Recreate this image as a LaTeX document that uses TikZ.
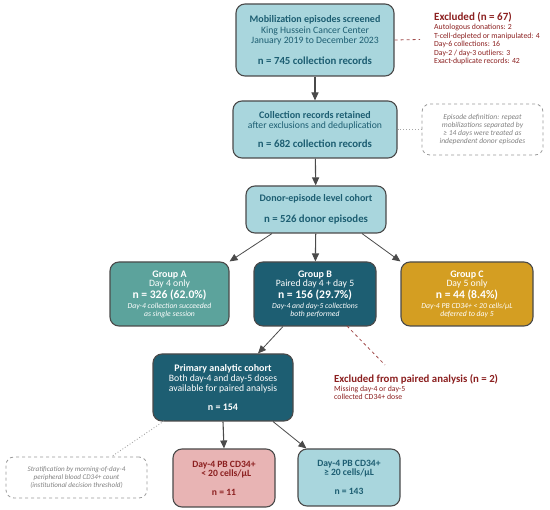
\documentclass[tikz,border=0pt]{standalone}
\usepackage{fontspec}
\setmainfont{Carlito}
\usetikzlibrary{arrows.meta,calc}
\definecolor{lightteal}{HTML}{A9D6DD}
\definecolor{tealA}{HTML}{5CA39C}
\definecolor{darkteal}{HTML}{1D5E72}
\definecolor{goldC}{HTML}{D49E22}
\definecolor{pinkbox}{HTML}{E8B4B4}
\definecolor{exred}{HTML}{8B1F1F}
\definecolor{edgegray}{HTML}{4A4A4A}
\definecolor{notegray}{HTML}{808080}
\tikzset{
  box/.style={draw=edgegray, line width=1.1pt, rounded corners=9pt, align=center, inner sep=0pt},
  lightbox/.style={box, fill=lightteal, text=darkteal},
  notebox/.style={draw=notegray!80, dashed, line width=0.8pt, rounded corners=8pt, align=center, inner sep=0pt, text=notegray},
  arr/.style={draw=edgegray, line width=1.1pt, -{Triangle[length=8pt,width=7pt]}},
  arrthin/.style={draw=edgegray, line width=0.8pt, -{Triangle[length=8pt,width=7pt]}},
  reddash/.style={draw=exred!80, dashed, line width=0.8pt},
  dotline/.style={draw=notegray!70, dotted, line width=0.9pt},
}
\newcommand{\ttl}[1]{{\fontsize{10}{10}\selectfont\bfseries #1}}
\newcommand{\reg}[1]{{\fontsize{9.7}{10}\selectfont #1}}
\newcommand{\bign}[1]{{\fontsize{10.8}{11}\selectfont\bfseries #1}}
\newcommand{\grpn}[1]{{\fontsize{11.6}{12}\selectfont\bfseries #1}}
\newcommand{\sml}[1]{{\fontsize{7.7}{8}\selectfont\itshape #1}}
\newcommand{\thr}[1]{{\fontsize{9.6}{10}\selectfont\bfseries #1}}
\begin{document}
\begin{tikzpicture}[x=1pt,y=-1pt]
\useasboundingbox (0,0) rectangle (550,510);

% main boxes
\node[lightbox, minimum width=158pt, minimum height=72pt, font=\fontsize{9.7}{10.5}\selectfont] (b1) at (315,40)
  {\ttl{Mobilization episodes screened}\\\reg{King Hussein Cancer Center}\\\reg{January 2019 to December 2023}\\[10pt]\bign{n = 745 collection records}};
\node[lightbox, minimum width=164pt, minimum height=57pt, font=\fontsize{9.7}{9.5}\selectfont] (b2) at (315,129.5)
  {\ttl{Collection records retained}\\\reg{after exclusions and deduplication}\\[9.5pt]\bign{n = 682 collection records}};
\node[lightbox, minimum width=140pt, minimum height=47pt, font=\fontsize{9.7}{10.5}\selectfont] (b3) at (316,209.5)
  {\ttl{Donor-episode level cohort}\\[10.5pt]\bign{n = 526 donor episodes}};

\node[box, fill=tealA, text=white, minimum width=119pt, minimum height=64pt, font=\fontsize{9.7}{9}\selectfont] (ga) at (169.5,294)
  {\ttl{Group A}\\\reg{Day 4 only}\\[1pt]\grpn{n = 326 (62.0\%)}\\[1pt]\sml{Day-4 collection succeeded}\\[-1pt]\sml{as single session}};
\node[box, fill=darkteal, text=white, minimum width=122pt, minimum height=64pt, font=\fontsize{9.7}{9}\selectfont] (gb) at (315,294)
  {\ttl{Group B}\\\reg{Paired day 4 + day 5}\\[1pt]\grpn{n = 156 (29.7\%)}\\[1pt]\sml{Day-4 and day-5 collections}\\[-1pt]\sml{both performed}};
\node[box, fill=goldC, text=white, minimum width=132pt, minimum height=64pt, font=\fontsize{9.7}{9}\selectfont] (gc) at (467,294)
  {\ttl{Group C}\\\reg{Day 5 only}\\[1pt]\grpn{n = 44 (8.4\%)}\\[1pt]\sml{Day-4 PB CD34+ < 20 cells/µL}\\[-1pt]\sml{deferred to day 5}};

\node[box, fill=darkteal, text=white, minimum width=140pt, minimum height=67pt, font=\fontsize{9.7}{10}\selectfont] (pc) at (223,387.5)
  {\ttl{Primary analytic cohort}\\\reg{Both day-4 and day-5 doses}\\\reg{available for paired analysis}\\[9pt]\ttl{n = 154}};

\node[box, fill=pinkbox, text=exred, minimum width=102pt, minimum height=58pt, font=\fontsize{9.6}{9}\selectfont] (lo) at (224,478)
  {\thr{Day-4 PB CD34+}\\\thr{\ \ < 20 cells/µL}\\[10pt]\thr{n = 11}};
\node[lightbox, minimum width=102pt, minimum height=57pt, font=\fontsize{9.6}{9}\selectfont] (hi) at (349,477.5)
  {\thr{Day-4 PB CD34+}\\\thr{≥ 20 cells/µL}\\[10pt]\thr{n = 143}};

% notes
\node[notebox, minimum width=121pt, minimum height=51pt, font=\fontsize{7.5}{7.9}\selectfont\itshape] (n1) at (482.5,129.5)
  {Episode definition: repeat\\mobilizations separated by\\≥ 14 days were treated as\\independent donor episodes};
\node[notebox, minimum width=141pt, minimum height=41pt, font=\fontsize{7.1}{7.8}\selectfont\itshape] (n2) at (76.5,477.5)
  {Stratification by morning-of-day-4\\peripheral blood CD34+ count\\(institutional decision threshold)};

% exclusion texts
\node[anchor=north west, inner sep=0pt, align=left, text=exred, font=\fontsize{7.8}{8.6}\selectfont] (ex1) at (434,12)
  {{\fontsize{11}{11}\selectfont\bfseries Excluded (n = 67)}\\[0.5pt]
   Autologous donations: 2\\
   T-cell-depleted or manipulated: 4\\
   Day-6 collections: 16\\
   Day-2 / day-3 outliers: 3\\
   Exact-duplicate records: 42};
\node[anchor=north west, inner sep=0pt, align=left, text=exred, font=\fontsize{7.8}{8.6}\selectfont] (ex2) at (334,374)
  {{\fontsize{10.8}{11}\selectfont\bfseries Excluded from paired analysis (n = 2)}\\[0.5pt]
   Missing day-4 or day-5\\
   collected CD34+ dose};

\coordinate (ex1c) at (420,39.5);
\coordinate (ex2c) at (385,365);
\coordinate (gbr) at (347,326);
\coordinate (pcl) at (164,421);

% connectors
\draw[arr] (b1) -- (b2);
\draw[arr] (b2) -- (b3);
\draw[arrthin] ($(b3.south)+(-44,0)$) -- (ga.north east);
\draw[arr] (b3) -- (gb);
\draw[arrthin] ($(b3.south)+(46,0)$) -- (gc.north west);
\draw[arrthin] ($(gb.south)+(-32,0)$) -- ($(pc.north)+(35,0)$);
\draw[arr] (pc.south) -- (lo.north);
\draw[arrthin] ($(pc.south)+(50,0)$) -- ($(hi.north west)+(9,0)$);

\draw[reddash] (b1.east) -- (ex1c);
\draw[reddash] (gbr) -- (ex2c);
\draw[dotline] (b2.east) -- (n1.west);
\draw[dotline] (pcl) -- ($(n2.north)+(35,0)$);
\end{tikzpicture}
\end{document}
